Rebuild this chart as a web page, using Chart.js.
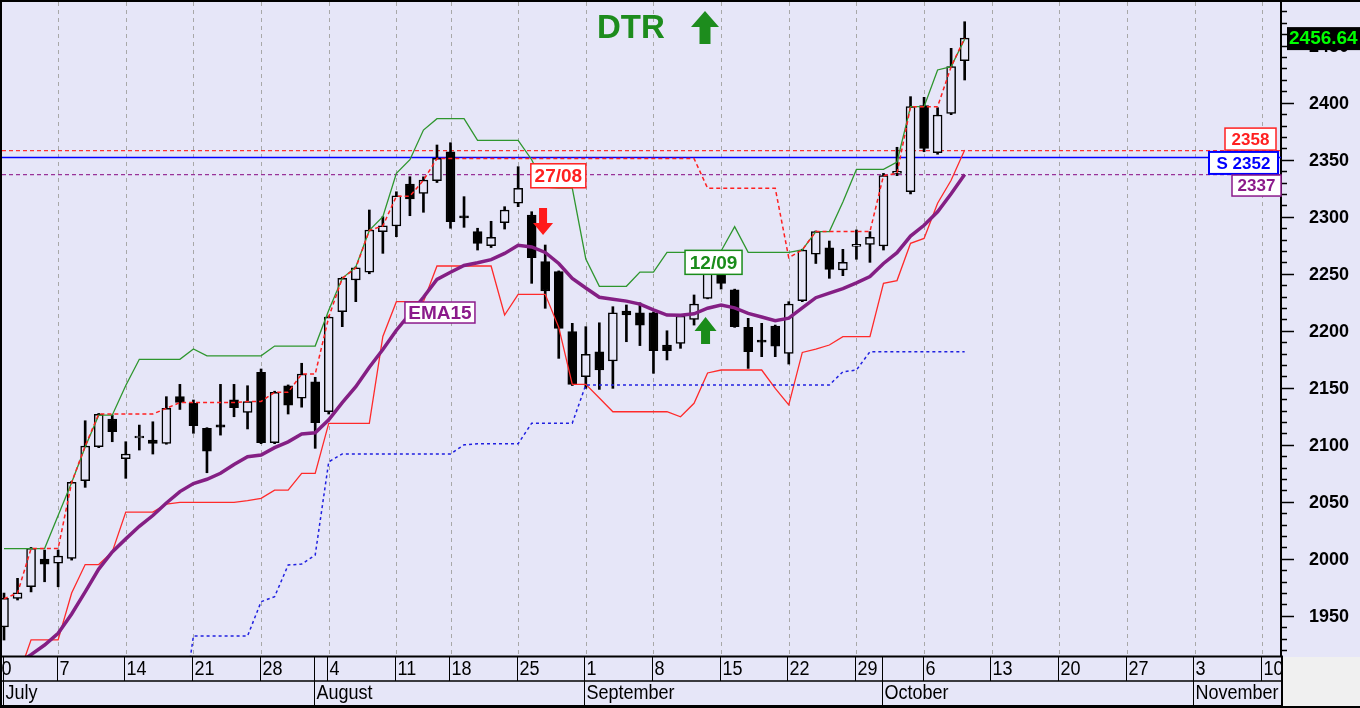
<!DOCTYPE html>
<html>
<head>
<meta charset="utf-8">
<script src="https://cdn.jsdelivr.net/npm/chart.js@4.4.1/dist/chart.umd.min.js"></script>
<style>
  html, body { margin: 0; padding: 0; background: #fff; }
  #wrap { width: 1360px; height: 708px; }
</style>
</head>
<body>
<div id="wrap"><canvas id="chart" width="1360" height="708"></canvas></div>
<script>
// daily candles, index 0 = 1 July, trading days only
const opens = [1940.4, 1965.4, 1975.5, 1999.8, 1996.1, 2000.4, 2068.5, 2098.3, 2122.6, 2087.8,
  2106.0, 2104.2, 2101.3, 2142.2, 2136.4, 2114.4, 2117.5, 2139.5, 2128.5, 2163.6,
  2101.8, 2151.8, 2140.8, 2155.3, 2129.0, 2216.7, 2244.5, 2251.3, 2286.9, 2291.9,
  2328.7, 2320.5, 2331.6, 2357.0, 2300.0, 2286.9, 2274.6, 2294.8, 2311.8, 2301.5,
  2260.6, 2251.8, 2199.2, 2159.7, 2181.6, 2173.5, 2217.3, 2215.8, 2215.8, 2187.5,
  2189.0, 2210.0, 2228.4, 2254.2, 2235.8, 2203.0, 2191.0, 2204.2, 2180.2, 2226.4,
  2267.1, 2272.8, 2253.3, 2274.0, 2275.8, 2274.3, 2338.0, 2321.9, 2397.4, 2356.2,
  2390.7, 2436.8];
const highs = [1970.0, 1982.9, 2010.0, 2007.7, 2007.7, 2068.0, 2121.1, 2127.5, 2126.1, 2102.7,
  2117.3, 2120.2, 2142.2, 2153.0, 2139.3, 2115.0, 2153.0, 2153.0, 2151.8, 2166.5,
  2147.0, 2152.5, 2171.5, 2159.2, 2213.0, 2247.0, 2256.0, 2305.9, 2300.0, 2321.9,
  2335.1, 2335.0, 2362.9, 2364.9, 2317.6, 2289.9, 2296.0, 2308.8, 2343.9, 2304.4,
  2275.2, 2252.5, 2206.5, 2203.6, 2207.0, 2221.1, 2222.6, 2224.5, 2216.5, 2200.0,
  2213.5, 2231.4, 2254.5, 2267.9, 2236.5, 2210.9, 2206.5, 2205.0, 2225.5, 2271.5,
  2287.5, 2278.7, 2271.4, 2288.4, 2286.9, 2338.0, 2360.9, 2405.3, 2404.7, 2395.6,
  2447.7, 2471.0];
const lows = [1928.8, 1963.9, 1971.0, 1979.9, 1975.5, 1998.9, 2062.7, 2097.5, 2102.7, 2070.6,
  2095.4, 2091.9, 2100.5, 2131.0, 2110.1, 2075.5, 2108.5, 2124.6, 2113.9, 2101.0,
  2101.0, 2127.0, 2133.0, 2096.9, 2127.0, 2203.6, 2225.5, 2250.0, 2267.9, 2282.5,
  2300.9, 2303.9, 2330.0, 2289.9, 2290.7, 2270.8, 2273.0, 2289.2, 2308.8, 2241.6,
  2219.7, 2175.8, 2152.0, 2149.5, 2148.6, 2149.5, 2190.4, 2187.0, 2162.7, 2174.4,
  2184.6, 2205.0, 2228.0, 2236.6, 2203.0, 2167.0, 2177.3, 2177.3, 2170.8, 2225.5,
  2259.0, 2246.0, 2248.3, 2262.7, 2260.0, 2270.8, 2336.0, 2320.0, 2357.0, 2354.8,
  2389.5, 2419.9];
const closes = [1965.4, 1970.3, 2009.2, 1995.4, 2002.5, 2067.1, 2098.9, 2126.7, 2111.5, 2091.9,
  2106.8, 2101.3, 2132.0, 2137.2, 2116.7, 2094.5, 2115.5, 2132.5, 2137.8, 2101.8,
  2146.0, 2134.8, 2162.1, 2119.4, 2212.0, 2246.0, 2255.3, 2288.4, 2292.1, 2318.4,
  2315.6, 2332.2, 2351.2, 2295.6, 2299.0, 2276.7, 2282.0, 2305.9, 2325.0, 2264.1,
  2234.9, 2202.1, 2153.0, 2179.3, 2165.6, 2215.8, 2213.8, 2205.0, 2182.5, 2182.5,
  2212.9, 2223.5, 2253.9, 2241.6, 2203.6, 2181.6, 2190.0, 2186.6, 2223.5, 2270.8,
  2286.9, 2253.9, 2260.0, 2275.0, 2282.0, 2336.0, 2338.5, 2396.5, 2360.0, 2389.2,
  2431.6, 2456.6];

// indicator lines
const upperBand = [2009, 2009, 2009, 2009, 2038, 2067, 2098, 2126, 2126, 2152,
  2175, 2175, 2175, 2175, 2184, 2178, 2178, 2178, 2178, 2178,
  2186.6, 2186.6, 2186.6, 2186.6, 2218, 2246, 2256, 2288, 2300, 2338,
  2350, 2376, 2386, 2386, 2386, 2367, 2367, 2367, 2367, 2350,
  2326, 2325, 2325, 2263, 2239, 2239, 2239, 2251.5, 2251.5, 2268.8,
  2268.8, 2268.8, 2268.8, 2270, 2291.3, 2268.8, 2268.8, 2268.8, 2268.8, 2271,
  2287, 2287, 2313, 2341.5, 2341.5, 2341.5, 2348, 2396.5, 2396.5, 2428.7,
  2431.6, 2455.6];
const lowerBand = [null, 1895, 1929, 1929, 1929, 1970, 1995, 1995, 2006, 2041,
  2041, 2041, 2048, 2049.6, 2049.6, 2049.6, 2049.6, 2049.6, 2051, 2053,
  2060.3, 2060.3, 2075, 2075, 2118.8, 2118.8, 2118.8, 2118.8, 2195, 2225.5,
  2225.5, 2225.5, 2256.8, 2256.8, 2256.8, 2256.8, 2256.8, 2213.8, 2232, 2232,
  2232, 2203, 2153, 2153, 2141, 2129, 2129, 2129, 2129, 2129,
  2124.6, 2136.4, 2163, 2165.6, 2165.6, 2165.6, 2165.6, 2149.5, 2135, 2181,
  2184, 2187.5, 2194.8, 2194.8, 2194.8, 2241.6, 2244, 2276.7, 2281, 2311.8,
  2332, 2358.5];
const highestClose = [1965, 1970, 2009, 2009, 2009, 2067, 2099, 2127, 2127, 2127,
  2127, 2127, 2132, 2137, 2137, 2137, 2137, 2137, 2138, 2138,
  2146, 2146, 2162, 2162, 2212, 2246, 2255, 2288, 2292, 2318,
  2318, 2332, 2351, 2351, 2351, 2351, 2351, 2351, 2351, 2351,
  2351, 2351, 2351, 2351, 2351, 2351, 2351, 2351, 2351, 2351,
  2351, 2351, 2325, 2325, 2325, 2325, 2325, 2325, 2264, 2271,
  2287, 2287, 2287, 2287, 2287, 2336, 2338, 2396.5, 2396.5, 2396.5,
  2431.6, 2456.6];
const stopLine = [null, null, null, null, null, null, null, null, null, null,
  null, null, null, 1850, 1932.3, 1932.3, 1932.3, 1932.3, 1932.3, 1962.4,
  1966.8, 1994.6, 1995.4, 2003.3, 2085, 2092, 2092, 2092, 2092, 2092,
  2092, 2092, 2092, 2092, 2100, 2101, 2101, 2101, 2101, 2119,
  2119, 2119, 2119, 2152.5, 2152.5, 2152.5, 2152.5, 2152.5, 2152.5, 2152.5,
  2152.5, 2152.5, 2152.5, 2152.5, 2152.5, 2152.5, 2152.5, 2152.5, 2152.5, 2152.5,
  2152.5, 2152.5, 2164, 2165.6, 2181.6, 2181.6, 2181.6, 2181.6, 2181.6, 2181.6,
  2181.6, 2181.6];
const ema15 = [1899, 1908, 1916, 1924.4, 1934.7, 1951.7, 1971, 1991, 2006, 2017.5,
  2028.5, 2038, 2049, 2059, 2066, 2069.8, 2075, 2082.8, 2089.5, 2091,
  2097.5, 2102.6, 2109.5, 2110.5, 2122, 2137, 2151, 2168, 2183.5, 2200.5,
  2214.8, 2229.4, 2245, 2251.3, 2257.2, 2259.6, 2262.4, 2267.8, 2274.9, 2273.5,
  2268.7, 2259, 2246, 2237.5, 2229.4, 2227.7, 2226, 2223.4, 2218.3, 2213.8,
  2213.7, 2214.9, 2219.8, 2222.5, 2220.1, 2215.3, 2212.1, 2208.9, 2211, 2220,
  2229, 2233, 2237, 2242, 2247.5, 2259, 2268.5, 2283, 2292.5, 2304.3,
  2320.2, 2337];

// horizontal levels
const resistanceLevel = 2358;
const supportLevel = 2352;
const emaLevel = 2337;
const lastPrice = 2456.64;

// axis labels
const priceTicks = [1950, 2000, 2050, 2100, 2150, 2200, 2250, 2300, 2350, 2400, 2450];
const weekLabels = ["30", "7", "14", "21", "28", "4", "11", "18", "25", "1", "8", "15", "22", "29", "6", "13", "20", "27", "3", "10"];
const weekIdx = [-1, 4, 9, 14, 19, 24, 29, 33, 38, 43, 48, 53, 58, 63, 68, 73, 78, 83, 88, 93];
const monthLabels = ["July", "August", "September", "October", "November"];
const monthIdx = [0, 23, 43, 65, 88];

const xMin = -0.148, xMax = 94.38, yMin = 1914.8, yMax = 2488.3;
const bgColor = "#e6e6f8";
const boldFont = "'Liberation Sans', Arial, sans-serif";

function series(arr) {
  return arr.map((v, i) => ({ x: i, y: v }));
}
function level(v) {
  return [{ x: xMin, y: v }, { x: xMax, y: v }];
}

const upBodies = [], downBodies = [], wicks = [];
opens.forEach((o, i) => {
  const c = closes[i];
  wicks.push({ x: i, y: [lows[i], highs[i]] });
  if (c >= o) upBodies.push({ x: i, y: [o, c] });
  else downBodies.push({ x: i, y: [c, o] });
});

function lineSet(data, color, width, dash, order) {
  return {
    type: "line", data: data, borderColor: color, borderWidth: width,
    borderDash: dash || [], pointRadius: 0, tension: 0, fill: false,
    spanGaps: false, order: order,
  };
}

function box(c, text, cx, cy, w, h, color, lw, size) {
  c.fillStyle = "#fff";
  c.fillRect(cx - w / 2, cy - h / 2, w, h);
  c.strokeStyle = color;
  c.lineWidth = lw;
  c.strokeRect(cx - w / 2, cy - h / 2, w, h);
  c.fillStyle = color;
  c.font = "bold " + size + "px " + boldFont;
  c.textAlign = "center";
  c.textBaseline = "middle";
  c.fillText(text, cx, cy + 1);
}

function arrow(c, cx, yTail, yTip, headW, shaftW, headLen, color) {
  const dir = yTip < yTail ? -1 : 1;
  const yBase = yTip - dir * headLen;
  c.fillStyle = color;
  c.beginPath();
  c.moveTo(cx - shaftW / 2, yTail);
  c.lineTo(cx - shaftW / 2, yBase);
  c.lineTo(cx - headW / 2, yBase);
  c.lineTo(cx, yTip);
  c.lineTo(cx + headW / 2, yBase);
  c.lineTo(cx + shaftW / 2, yBase);
  c.lineTo(cx + shaftW / 2, yTail);
  c.closePath();
  c.fill();
}

// narrow date text: regular face squeezed sideways
function narrowText(c, text, x, y) {
  c.save();
  c.translate(x, y);
  c.scale(0.9, 1);
  c.fillText(text, 0, 0);
  c.restore();
}

const decor = {
  id: "decor",
  beforeDraw(chart) {
    const c = chart.ctx;
    c.save();
    c.fillStyle = bgColor;
    c.fillRect(0, 0, 1360, 708);
    c.fillStyle = "#f0f0f0";
    c.fillRect(1283, 657, 77, 51);
    c.restore();
  },
  beforeDatasetsDraw(chart) {
    const c = chart.ctx, a = chart.chartArea, x = chart.scales.x;
    c.save();
    c.strokeStyle = "#a8a8a8";
    c.lineWidth = 1;
    c.setLineDash([4, 4]);
    weekIdx.forEach((wi) => {
      const px = Math.round(x.getPixelForValue(wi)) + 0.5;
      if (px < a.left || px > a.right) return;
      c.beginPath();
      c.moveTo(px, a.top);
      c.lineTo(px, a.bottom);
      c.stroke();
    });
    c.restore();
  },
  afterDraw(chart) {
    const c = chart.ctx, a = chart.chartArea;
    const x = chart.scales.x, y = chart.scales.y;
    const P = (i) => x.getPixelForValue(i);
    const Y = (v) => y.getPixelForValue(v);
    c.save();

    // price axis ticks and labels
    c.strokeStyle = "#000";
    c.lineWidth = 1.5;
    for (let v = 1920; v <= 2480; v += 10) {
      const py = Math.round(Y(v)) + 0.5;
      const len = v % 50 === 0 ? 13 : 6;
      c.beginPath();
      c.moveTo(a.right, py);
      c.lineTo(a.right + len, py);
      c.stroke();
    }
    c.fillStyle = "#000";
    c.font = "bold 18px " + boldFont;
    c.textAlign = "left";
    c.textBaseline = "middle";
    priceTicks.forEach((v) => c.fillText(String(v), 1309, Y(v) + 1));

    // date axis rows
    c.save();
    c.beginPath();
    c.rect(0, a.bottom, a.right + 1, 708 - a.bottom);
    c.clip();
    c.strokeStyle = "#000";
    c.lineWidth = 1;
    c.fillStyle = "#000";
    c.font = "20px " + boldFont;
    c.textAlign = "left";
    c.textBaseline = "middle";
    weekIdx.forEach((wi, k) => {
      const sx = Math.round(P(wi) - 1.5) + 0.5;
      c.beginPath();
      c.moveTo(sx, a.bottom);
      c.lineTo(sx, 681);
      c.stroke();
      narrowText(c, weekLabels[k], sx + 2, 669);
    });
    monthIdx.forEach((mi, k) => {
      const sx = Math.round(P(mi) - 1.5) + 0.5;
      c.beginPath();
      c.moveTo(sx, a.bottom);
      c.lineTo(sx, 706);
      c.stroke();
      narrowText(c, monthLabels[k], sx + 2, 693);
    });
    c.restore();

    c.strokeStyle = "#000";
    c.lineWidth = 2;
    c.beginPath();
    c.moveTo(0, a.bottom + 0.5); c.lineTo(a.right + 2, a.bottom + 0.5);
    c.moveTo(0, 706); c.lineTo(a.right + 2, 706);
    c.moveTo(a.right + 1, a.bottom); c.lineTo(a.right + 1, 707);
    c.moveTo(0, 1); c.lineTo(1360, 1);
    c.moveTo(1, 0); c.lineTo(1, 708);
    c.moveTo(0, 707); c.lineTo(1360, 707);
    c.stroke();
    c.lineWidth = 1.5;
    c.beginPath();
    c.moveTo(0, 681); c.lineTo(a.right + 2, 681);
    c.stroke();

    // signal arrows and labels
    arrow(c, P(39.84), Y(2307.7), Y(2284.0), 20, 8, 12, "#ff1a1a");
    arrow(c, P(51.85), Y(2188.4), Y(2212.1), 22, 9, 14, "#1a8c1a");
    box(c, "27/08", P(40.97), Y(2335.9), 55, 24, "#ff2020", 1.5, 19);
    box(c, "12/09", P(52.44), Y(2260), 57, 24, "#1a8c1a", 1.5, 19);
    box(c, "EMA15", P(32.22), Y(2216), 70, 21, "#8b1a8b", 1.5, 19);

    // title
    c.fillStyle = "#1d8c1d";
    c.font = "bold 33px " + boldFont;
    c.textAlign = "left";
    c.textBaseline = "middle";
    c.fillText("DTR", 597, 29);
    arrow(c, 705, 44, 11, 28, 11, 16, "#1d8c1d");

    // level tags on the right
    const yr = Y(resistanceLevel), ys = Y(supportLevel), ye = Y(emaLevel);
    box(c, String(resistanceLevel), 1250.5, yr - 11.5, 51, 22, "#ff2020", 1.5, 17);
    box(c, "S " + supportLevel, 1243.5, ys + 5.5, 69, 22, "#0000ff", 2, 17);
    box(c, String(emaLevel), 1256.5, ye + 11, 49, 21, "#8b1a8b", 1.5, 17);

    // last price
    const yp = Y(lastPrice);
    c.fillStyle = "#000";
    c.fillRect(1287, yp - 11, 73, 23);
    c.fillStyle = "#00ff00";
    c.font = "bold 19px " + boldFont;
    c.textAlign = "left";
    c.textBaseline = "middle";
    c.fillText(lastPrice.toFixed(2), 1289, yp + 1);
    c.restore();
  },
};

new Chart(document.getElementById("chart"), {
  type: "bar",
  data: {
    datasets: [
      lineSet(level(resistanceLevel), "#ff3030", 1.3, [4, 3], 20),
      lineSet(level(supportLevel), "#0000ff", 1.5, [], 20),
      lineSet(level(emaLevel), "#993399", 1.3, [4, 3], 20),
      {
        type: "bar", data: wicks, backgroundColor: "#000", borderWidth: 0,
        barThickness: 2, grouped: false, order: 12,
      },
      {
        type: "bar", data: upBodies, backgroundColor: bgColor, borderColor: "#000",
        borderWidth: 1.5, borderSkipped: false, barThickness: 9, minBarLength: 2,
        grouped: false, order: 11,
      },
      {
        type: "bar", data: downBodies, backgroundColor: "#000", borderColor: "#000",
        borderWidth: 1.5, borderSkipped: false, barThickness: 9, minBarLength: 2,
        grouped: false, order: 11,
      },
      lineSet(series(upperBand), "#2e962e", 1.3, [], 5),
      lineSet(series(lowerBand), "#ff2a2a", 1.3, [], 5),
      lineSet(series(stopLine), "#2020e0", 1.5, [3, 3], 4),
      lineSet(series(highestClose), "#ff2020", 1.5, [4, 3], 3),
      lineSet(series(ema15), "#841f84", 3.5, [], 2),
    ],
  },
  options: {
    responsive: false,
    animation: false,
    devicePixelRatio: 1,
    layout: { padding: { left: 2, top: 2, right: 0, bottom: 52 } },
    plugins: { legend: { display: false }, tooltip: { enabled: false } },
    scales: {
      x: { type: "linear", min: xMin, max: xMax, offset: false, display: false },
      y: {
        position: "right", min: yMin, max: yMax, beginAtZero: false,
        afterFit: (s) => { s.width = 79; s.paddingTop = 0; s.paddingBottom = 0; },
        border: { display: true, color: "#000", width: 2 },
        grid: { display: false },
        ticks: { display: false },
      },
    },
  },
  plugins: [decor],
});
</script>
</body>
</html>
